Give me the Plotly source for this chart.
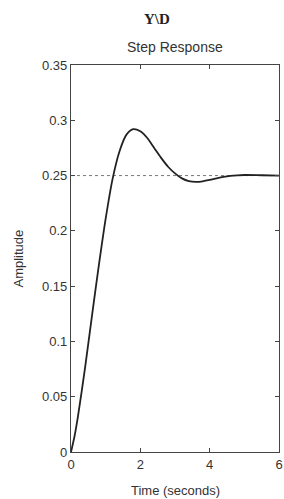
import plotly.graph_objects as go

# Data
time_s = [0, 0.1, 0.2, 0.4, 0.6, 0.8, 1.0, 1.2, 1.4, 1.6, 1.8, 2.0, 2.2, 2.4, 2.6, 2.8,
          3.0, 3.2, 3.4, 3.6, 3.8, 4.0, 4.2, 4.4, 4.6, 4.8, 5.0, 5.5, 6.0]
amplitude = [0, 0.014, 0.032, 0.075, 0.122, 0.168, 0.211, 0.247, 0.272, 0.287, 0.292,
             0.290, 0.284, 0.275, 0.266, 0.258, 0.252, 0.2475, 0.2450, 0.2443, 0.2448,
             0.2460, 0.2475, 0.2488, 0.2497, 0.2502, 0.2505, 0.2503, 0.2500]
final_value = 0.25
x_ticks = [0, 2, 4, 6]
y_ticks = [0, 0.05, 0.1, 0.15, 0.2, 0.25, 0.3, 0.35]
y_tick_labels = ["0", "0.05", "0.1", "0.15", "0.2", "0.25", "0.3", "0.35"]

fig = go.Figure()
fig.add_trace(go.Scatter(x=[time_s[0], time_s[-1]], y=[final_value, final_value],
                         mode="lines", line=dict(color="#777777", width=1, dash="dot"),
                         hoverinfo="skip", showlegend=False))
fig.add_trace(go.Scatter(x=time_s, y=amplitude, mode="lines",
                         line=dict(color="#222222", width=1.8, shape="spline", smoothing=0.8),
                         showlegend=False))

axis_common = dict(showgrid=False, zeroline=False, showline=True, linecolor="#444444",
                   linewidth=1.2, mirror="ticks", ticks="inside", ticklen=4, automargin=False,
                   tickcolor="#444444", tickfont=dict(family="Liberation Sans", size=13, color="#333333"))

W, H = 284, 499
L, R, T, B = 71, 5, 65, 47
fig.update_layout(
    width=W, height=H,
    margin=dict(l=L, r=R, t=T, b=B),
    paper_bgcolor="white", plot_bgcolor="white",
    xaxis=dict(range=[0, 6], tickvals=x_ticks, ticktext=[str(v) for v in x_ticks], **axis_common),
    yaxis=dict(range=[0, 0.35], tickvals=y_ticks, ticktext=y_tick_labels, **axis_common),
    annotations=[
        dict(text="<b>Y\\D</b>", x=(157 - L) / (W - L - R), y=1.0, xref="paper", yref="paper",
             showarrow=False, yanchor="bottom", yshift=36,
             font=dict(family="Liberation Serif", size=15, color="#222222")),
        dict(text="Step Response", x=0.5, y=1.0, xref="paper", yref="paper", showarrow=False,
             yanchor="bottom", yshift=8, font=dict(family="Liberation Sans", size=14, color="#333333")),
        dict(text="Time (seconds)", x=0.5, y=0, xref="paper", yref="paper", showarrow=False,
             yanchor="top", yshift=-29, font=dict(family="Liberation Sans", size=13, color="#333333")),
        dict(text="Amplitude", x=0, y=0.5, xref="paper", yref="paper", showarrow=False,
             textangle=-90, xanchor="center", xshift=-(L - 18),
             font=dict(family="Liberation Sans", size=13, color="#333333")),
    ],
)

# remove the default page margin so the 284x499 figure fills the window exactly
fig.write_html("out.html",
               config={"displayModeBar": False},
               post_script="document.documentElement.style.overflow='hidden';"
                           "document.body.style.margin='0';document.body.style.overflow='hidden';")
